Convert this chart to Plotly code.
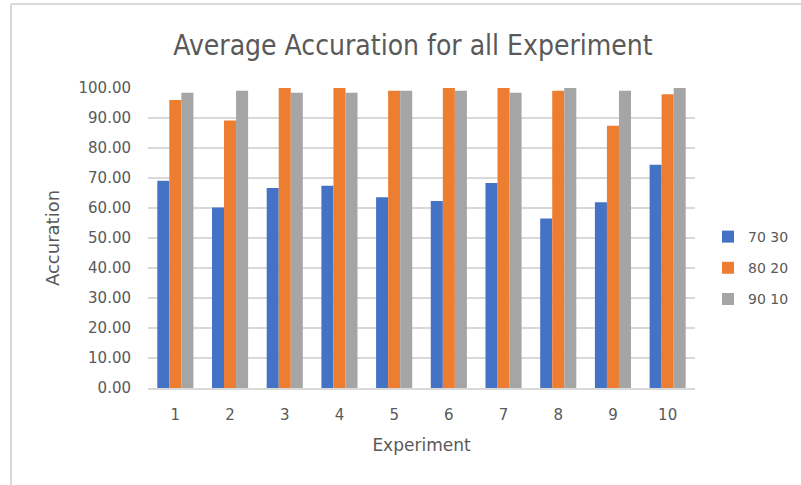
import plotly.graph_objects as go

# Average accuracy per experiment for each train/test split
experiments = ["1", "2", "3", "4", "5", "6", "7", "8", "9", "10"]
split_70_30 = [69.1, 60.2, 66.7, 67.4, 63.6, 62.3, 68.3, 56.5, 61.9, 74.4]
split_80_20 = [96.0, 89.2, 100.0, 100.0, 99.1, 100.0, 100.0, 99.1, 87.4, 97.9]
split_90_10 = [98.4, 99.1, 98.4, 98.4, 99.1, 99.1, 98.4, 100.0, 99.1, 100.0]

series = [
    ("70 30", split_70_30, "#4472C4"),
    ("80 20", split_80_20, "#ED7D31"),
    ("90 10", split_90_10, "#A5A5A5"),
]

W, H = 801, 485
L, R, T, B = 148, 106, 88, 97
pw, ph = W - L - R, H - T - B

text_color = "#595959"
grid_color = "#D9D9D9"
font_family = "DejaVu Sans"

fig = go.Figure()
for name, vals, color in series:
    fig.add_trace(go.Bar(name=name, x=experiments, y=vals, marker_color=color,
                         marker_line_width=0, legendgroup=name))


def px_x(px):
    return (px - L) / pw


def px_y(py):
    return (H - B - py) / ph


fig.update_layout(
    width=W, height=H,
    margin=dict(l=L, r=R, t=T, b=B, pad=0, autoexpand=False),
    paper_bgcolor="white", plot_bgcolor="white",
    barmode="group", bargap=0.34, bargroupgap=0,
    font=dict(family=font_family, color=text_color, size=15),
    title=dict(text="Average Accuration for all Experiment",
               x=413 / W, xanchor="center", xref="container",
               y=1 - 45 / H, yanchor="middle", yref="container",
               font=dict(family="Liberation Sans Narrow, DejaVu Sans Condensed", size=28,
                         color=text_color)),
    showlegend=True,
    legend=dict(x=px_x(708), xanchor="left", y=px_y(221), yanchor="top",
                font=dict(size=14, color=text_color), tracegroupgap=10,
                itemwidth=30, bgcolor="rgba(0,0,0,0)"),
    xaxis=dict(showline=True, linecolor=grid_color, linewidth=1.5,
               showgrid=False, ticks="", ticklabelstandoff=12,
               tickfont=dict(size=15, color=text_color),
               title=dict(text="Experiment", standoff=16,
                          font=dict(size=17, color=text_color))),
    yaxis=dict(range=[0, 100], dtick=10, tickformat=".2f", showgrid=True,
               gridcolor=grid_color, gridwidth=1.5, zeroline=False, ticks="",
               ticklabelstandoff=16, showline=False,
               tickfont=dict(size=15, color=text_color),
               title=dict(text="Accuration", standoff=14,
                          font=dict(size=18, color=text_color))),
    shapes=[
        dict(type="line", xref="paper", yref="paper",
             x0=px_x(11), x1=px_x(W + 5), y0=px_y(4), y1=px_y(4),
             line=dict(color=grid_color, width=2)),
        dict(type="line", xref="paper", yref="paper",
             x0=px_x(11), x1=px_x(11), y0=px_y(4), y1=px_y(H + 5),
             line=dict(color=grid_color, width=2)),
    ],
)

fig.write_html("out.html")
